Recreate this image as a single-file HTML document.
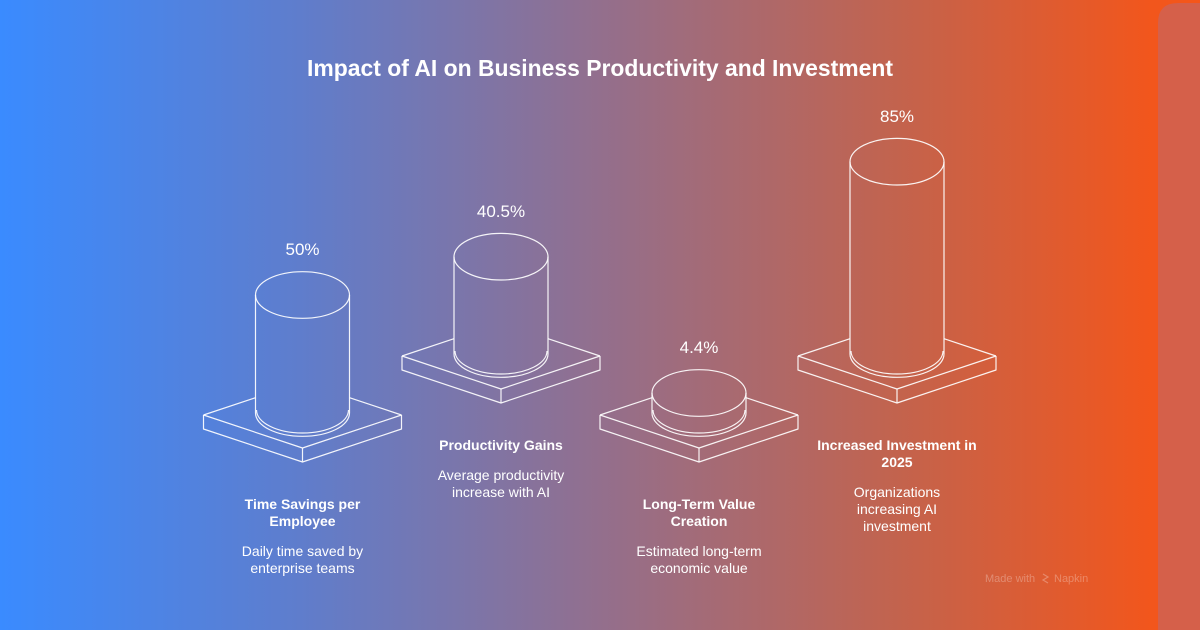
<!DOCTYPE html>
<html>
<head>
<meta charset="utf-8">
<style>
  html,body{margin:0;padding:0;width:1200px;height:630px;overflow:hidden;}
  svg{display:block;}
  text{font-family:"Liberation Sans",Arial,sans-serif;fill:#ffffff;}
</style>
</head>
<body>
<svg width="1200" height="630" viewBox="0 0 1200 630" xmlns="http://www.w3.org/2000/svg">
  <defs>
    <linearGradient id="bg" x1="0" y1="0" x2="1200" y2="0" gradientUnits="userSpaceOnUse">
      <stop offset="0" stop-color="#3a8bff"/>
      <stop offset="0.25" stop-color="#5f7dcc"/>
      <stop offset="0.5" stop-color="#936f8d"/>
      <stop offset="0.75" stop-color="#c3634d"/>
      <stop offset="0.96" stop-color="#f2561c"/>
      <stop offset="1" stop-color="#f4561a"/>
    </linearGradient>
  </defs>
  <rect x="0" y="0" width="1200" height="630" fill="url(#bg)"/>
  <path d="M1158,630 V23 Q1158,3 1178,3 H1200 V630 Z" fill="#d5604a"/>

  <text x="600" y="76" font-size="23" font-weight="bold" text-anchor="middle" textLength="586" lengthAdjust="spacingAndGlyphs">Impact of AI on Business Productivity and Investment</text>

  <g fill="none" stroke="#ffffff" stroke-opacity="0.92" stroke-width="1.2" stroke-linejoin="round">
    <!-- Cylinder 1: cx 302.5, py 415, tc 295 -->
    <path d="M203.5,415 L302.5,448 L401.5,415"/>
    <path d="M203.5,415 L255.5,397.7 M401.5,415 L349.5,397.7"/>
    <path d="M203.5,415 V429 L302.5,462 L401.5,429 V415 M302.5,448 V462"/>
    <path d="M255.5,295 V413 M349.5,295 V413"/>
    <path d="M255.5,413 A47,23.3 0 0 0 349.5,413"/>
    <path d="M256.5,410 A46,23 0 0 0 348.5,410"/>
    <ellipse cx="302.5" cy="295" rx="47" ry="23.3"/>

    <!-- Cylinder 2: cx 501, py 356, tc 256.7 -->
    <path d="M402,356 L501,389 L600,356"/>
    <path d="M402,356 L454,338.7 M600,356 L548,338.7"/>
    <path d="M402,356 V370 L501,403 L600,370 V356 M501,389 V403"/>
    <path d="M454,256.7 V354 M548,256.7 V354"/>
    <path d="M454,354 A47,23.3 0 0 0 548,354"/>
    <path d="M455,351 A46,23 0 0 0 547,351"/>
    <ellipse cx="501" cy="256.7" rx="47" ry="23.3"/>

    <!-- Cylinder 3: cx 699, py 415, tc 393 -->
    <path d="M600,415 L699,448 L798,415"/>
    <path d="M600,415 L652,397.7 M798,415 L746,397.7"/>
    <path d="M600,415 V429 L699,462 L798,429 V415 M699,448 V462"/>
    <path d="M652,393 V413 M746,393 V413"/>
    <path d="M652,413 A47,23.3 0 0 0 746,413"/>
    <path d="M653,410 A46,23 0 0 0 745,410"/>
    <ellipse cx="699" cy="393" rx="47" ry="23.3"/>

    <!-- Cylinder 4: cx 897, py 356, tc 161.7 -->
    <path d="M798,356 L897,389 L996,356"/>
    <path d="M798,356 L850,338.7 M996,356 L944,338.7"/>
    <path d="M798,356 V370 L897,403 L996,370 V356 M897,389 V403"/>
    <path d="M850,161.7 V354 M944,161.7 V354"/>
    <path d="M850,354 A47,23.3 0 0 0 944,354"/>
    <path d="M851,351 A46,23 0 0 0 943,351"/>
    <ellipse cx="897" cy="161.7" rx="47" ry="23.3"/>
  </g>

  <!-- values -->
  <g font-size="17" text-anchor="middle">
    <text x="302.5" y="255">50%</text>
    <text x="501" y="217">40.5%</text>
    <text x="699" y="353">4.4%</text>
    <text x="897" y="122">85%</text>
  </g>

  <!-- labels -->
  <g font-size="14" font-weight="bold" text-anchor="middle">
    <text x="302.5" y="509">Time Savings per</text>
    <text x="302.5" y="526">Employee</text>
    <text x="501" y="450">Productivity Gains</text>
    <text x="699" y="509">Long-Term Value</text>
    <text x="699" y="526">Creation</text>
    <text x="897" y="450">Increased Investment in</text>
    <text x="897" y="467">2025</text>
  </g>
  <g font-size="14" text-anchor="middle">
    <text x="302.5" y="556">Daily time saved by</text>
    <text x="302.5" y="573">enterprise teams</text>
    <text x="501" y="480">Average productivity</text>
    <text x="501" y="497">increase with AI</text>
    <text x="699" y="556">Estimated long-term</text>
    <text x="699" y="573">economic value</text>
    <text x="897" y="497">Organizations</text>
    <text x="897" y="514">increasing AI</text>
    <text x="897" y="531">investment</text>
  </g>

  <!-- watermark -->
  <g opacity="0.28">
    <text x="985" y="582" font-size="11">Made with</text>
    <path d="M1043,574 l5,3 l-5,3 l5,3" fill="none" stroke="#ffffff" stroke-width="1.2"/>
    <text x="1054" y="582" font-size="11">Napkin</text>
  </g>
</svg>
</body>
</html>
